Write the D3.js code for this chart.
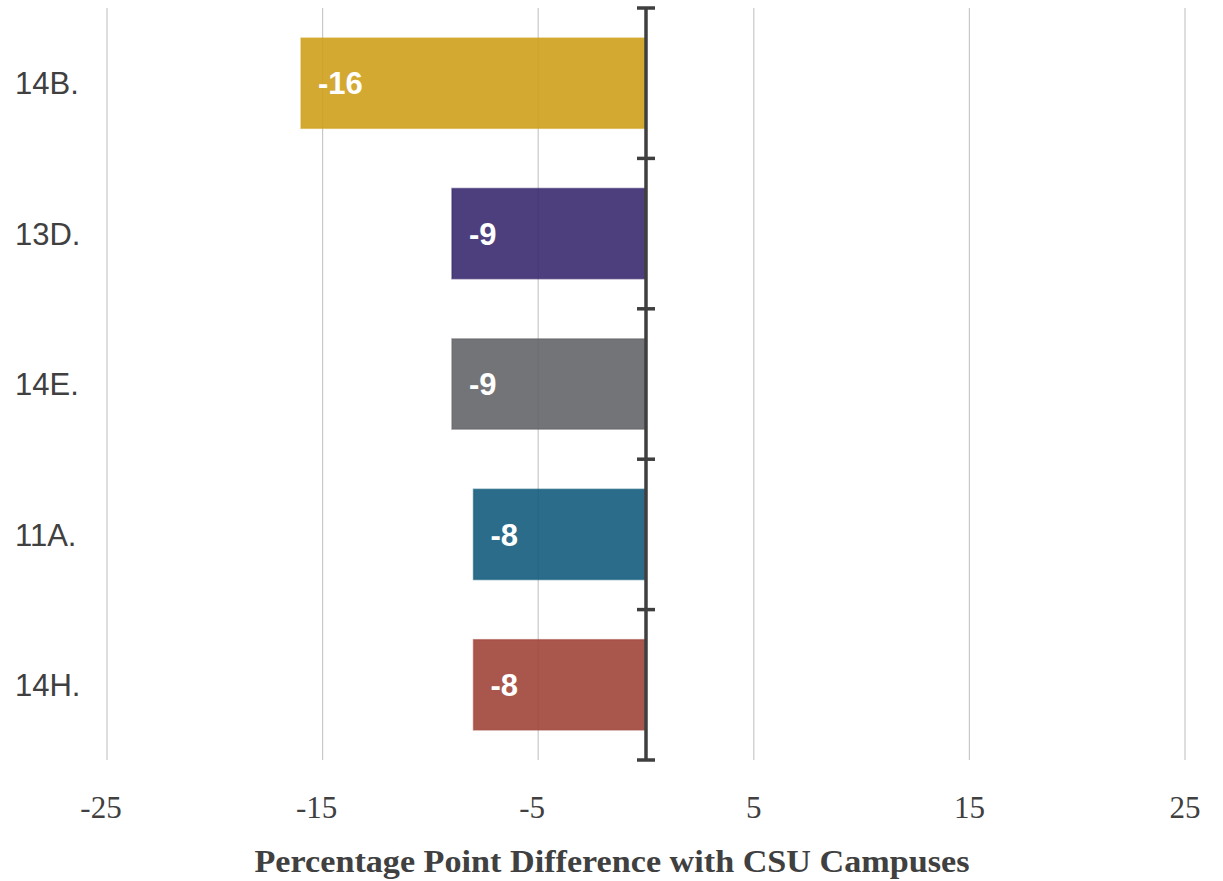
<!DOCTYPE html>
<html><head><meta charset="utf-8">
<script src="https://cdn.jsdelivr.net/npm/d3@7"></script>
<style>body{margin:0;background:#fff}svg{display:block}</style>
</head><body>
<svg id="chart" width="1223" height="881"></svg>
<script>
const categories = ["14B.", "13D.", "14E.", "11A.", "14H."];
const values = [-16, -9, -9, -8, -8];
const colors = ["#CFA01C", "#3A2A70", "#646568", "#135C7C", "#A0443A"];
const xTicks = [-25, -15, -5, 5, 15, 25];
const xTitle = "Percentage Point Difference with CSU Campuses";

const svg = d3.select("#chart");
const x = d3.scaleLinear().domain([-25, 25]).range([107, 1185]);
const y = d3.scaleBand().domain(categories).range([8, 760]).paddingInner(0.4).paddingOuter(0.2);

// gridlines
svg.append("g").selectAll("line").data(xTicks).join("line")
  .attr("x1", d => x(d)).attr("x2", d => x(d))
  .attr("y1", 8).attr("y2", 760)
  .attr("stroke", "#c8c8c8").attr("stroke-width", 1.2);

// bars
svg.append("g").selectAll("rect").data(values).join("rect")
  .attr("x", d => x(Math.min(0, d)))
  .attr("width", d => Math.abs(x(d) - x(0)))
  .attr("y", (d, i) => y(categories[i]))
  .attr("height", y.bandwidth())
  .attr("fill", (d, i) => colors[i])
  .attr("fill-opacity", 0.9)
  .attr("stroke", (d, i) => colors[i])
  .attr("stroke-opacity", 0.55)
  .attr("stroke-width", 1.5);

// bar labels
svg.append("g").selectAll("text").data(values).join("text")
  .attr("x", d => x(d) + 17)
  .attr("y", (d, i) => y(categories[i]) + y.bandwidth() / 2)
  .attr("dy", "0.36em")
  .attr("fill", "#fff")
  .attr("font-family", "Liberation Sans, Arial, sans-serif")
  .attr("font-weight", "bold")
  .attr("font-size", 31)
  .text(d => d);

// zero axis
const bTicks = d3.range(categories.length + 1).map(i => y.range()[0] + i * y.step());
svg.append("line")
  .attr("x1", x(0)).attr("x2", x(0)).attr("y1", 8).attr("y2", 760)
  .attr("stroke", "#3f3f3f").attr("stroke-width", 3.5);
svg.append("g").selectAll("line").data(bTicks).join("line")
  .attr("x1", x(0) - 9).attr("x2", x(0) + 9)
  .attr("y1", d => d).attr("y2", d => d)
  .attr("stroke", "#3f3f3f").attr("stroke-width", 3.5);

// category labels
svg.append("g").selectAll("text").data(categories).join("text")
  .attr("x", 15)
  .attr("y", d => y(d) + y.bandwidth() / 2)
  .attr("dy", "0.36em")
  .attr("fill", "#404040")
  .attr("font-family", "Liberation Sans, Arial, sans-serif")
  .attr("font-size", 31)
  .text(d => d);

// x tick labels
svg.append("g").selectAll("text").data(xTicks).join("text")
  .attr("x", d => x(d) - (d < 0 ? 6 : 0))
  .attr("y", 818)
  .attr("text-anchor", "middle")
  .attr("fill", "#404040")
  .attr("font-family", "Liberation Serif, Times New Roman, serif")
  .attr("font-size", 31)
  .text(d => d);

// x title
svg.append("text")
  .attr("x", 612).attr("y", 872)
  .attr("text-anchor", "middle")
  .attr("fill", "#404040")
  .attr("font-family", "Liberation Serif, Times New Roman, serif")
  .attr("font-weight", "bold")
  .attr("font-size", 31)
  .attr("textLength", 715)
  .attr("lengthAdjust", "spacingAndGlyphs")
  .text(xTitle);
</script>
</body></html>
